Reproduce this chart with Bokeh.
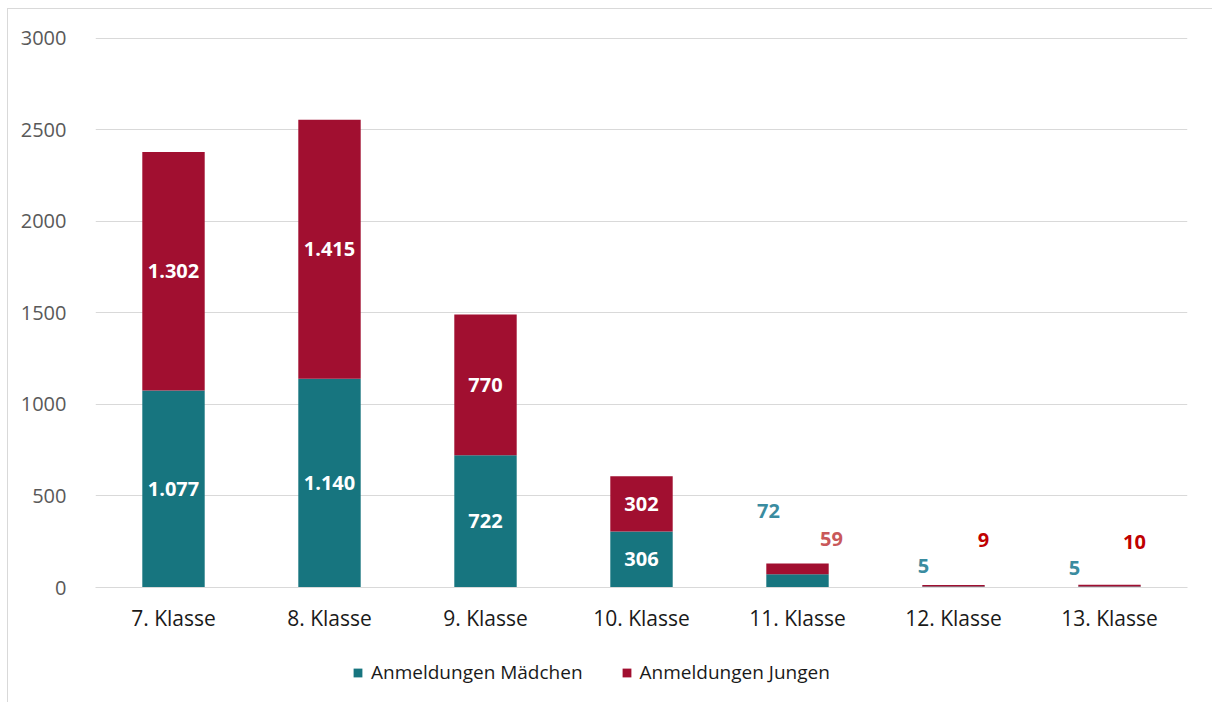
from bokeh.plotting import figure
from bokeh.layouts import column
from bokeh.models import ColumnDataSource, Legend, LegendItem, FactorRange, Range1d, FixedTicker
from bokeh.core.properties import value
from bokeh.embed import file_html
from bokeh.resources import INLINE

categories = ["7. Klasse", "8. Klasse", "9. Klasse", "10. Klasse", "11. Klasse", "12. Klasse", "13. Klasse"]
maedchen = [1077, 1140, 722, 306, 72, 5, 5]
jungen = [1302, 1415, 770, 302, 59, 9, 10]
series = ["Anmeldungen Mädchen", "Anmeldungen Jungen"]
y_ticks = [0, 500, 1000, 1500, 2000, 2500, 3000]

TEAL = "#17757F"
RED = "#A10F30"
FONT = "Open Sans"

def fmt(v):
    return f"{v:,}".replace(",", ".")

src = ColumnDataSource(dict(cat=categories, m=maedchen, j=jungen))

p = figure(x_range=FactorRange(*categories, range_padding=0), y_range=Range1d(0, 3005),
           width=1204, height=628, frame_width=1092, frame_height=550,
           output_backend="svg", toolbar_location=None,
           min_border_left=87, min_border_right=25, min_border_top=28, min_border_bottom=50)
p.outline_line_color = None

r = p.vbar_stack(["m", "j"], x="cat", width=0.4, color=[TEAL, RED], line_color=None, source=src)

# inside labels (first four categories)
in_x, in_y, in_t = [], [], []
for c, m, j in zip(categories[:4], maedchen[:4], jungen[:4]):
    in_x += [c, c]
    in_y += [m / 2, m + j / 2]
    in_t += [fmt(m), fmt(j)]
p.text(x=in_x, y=in_y, text=in_t, text_color="white", text_font=value(FONT),
       text_font_style="bold", text_font_size="20px", text_align="center", text_baseline="middle")

# outside labels for small categories (manually placed as in the original)
out_cats = categories[4:]
out_m = maedchen[4:]
out_j = jungen[4:]
m_label_y = [420, 115, 104]
m_label_dx = [-29, -30, -35]
j_label_y = [267, 257, 246]
j_label_dx = [34, 30, 25]
j_colors = ["#C9585A", "#C00000", "#C00000"]
p.text(x=out_cats, y=m_label_y, x_offset=m_label_dx, text=[fmt(v) for v in out_m],
       text_color="#3A8CA0", text_font=value(FONT), text_font_style="bold", text_font_size="20px",
       text_align="center", text_baseline="middle")
p.text(x=out_cats, y=j_label_y, x_offset=j_label_dx, text=[fmt(v) for v in out_j],
       text_color=j_colors, text_font=value(FONT), text_font_style="bold", text_font_size="20px",
       text_align="center", text_baseline="middle")

p.yaxis.ticker = FixedTicker(ticks=y_ticks)
p.yaxis.axis_line_color = None
p.yaxis.major_tick_line_color = None
p.yaxis.minor_tick_line_color = None
p.yaxis.major_label_standoff = 23
p.yaxis.major_label_text_font = FONT
p.yaxis.major_label_text_font_size = "20px"
p.yaxis.major_label_text_color = "#595959"

p.xaxis.axis_line_color = "#d9d9d9"
p.xaxis.major_tick_line_color = None
p.xaxis.minor_tick_line_color = None
p.xaxis.major_label_standoff = 10
p.xaxis.major_label_text_font = FONT
p.xaxis.major_label_text_font_size = "21px"
p.xaxis.major_label_text_color = "#1a1a1a"

p.xgrid.grid_line_color = None
p.ygrid.grid_line_color = "#d9d9d9"
p.ygrid.grid_line_width = 1

# legend strip below the chart (its swatch renderers have zero height, so draw nothing)
leg = figure(width=1204, height=65, x_range=Range1d(0, 1), y_range=Range1d(0, 1),
             x_axis_location=None, y_axis_location=None,
             output_backend="svg", toolbar_location=None,
             min_border_left=0, min_border_right=0, min_border_top=0, min_border_bottom=0)
leg.grid.visible = False
leg.outline_line_color = None
lm = leg.vbar(x=[0.5], top=[0], bottom=[0], width=0.0, fill_color=TEAL, line_color=None)
lj = leg.vbar(x=[0.5], top=[0], bottom=[0], width=0.0, fill_color=RED, line_color=None)
legend = Legend(items=[LegendItem(label=series[0], renderers=[lm]),
                       LegendItem(label=series[1], renderers=[lj])],
                orientation="horizontal", location=(257, 17),
                label_text_font=FONT, label_text_font_size="19px", label_text_color="#1a1a1a",
                glyph_width=11, glyph_height=11, label_standoff=8, spacing=38,
                border_line_color=None, background_fill_alpha=0, margin=0, padding=0)
leg.add_layout(legend, "center")

layout = column(p, leg, spacing=0)
layout.margin = (8, 0, 0, 7)
layout.styles = {"border-left": "1px solid #d9d9d9", "border-top": "1px solid #d9d9d9"}

open("out.html", "w").write(file_html(layout, INLINE))
